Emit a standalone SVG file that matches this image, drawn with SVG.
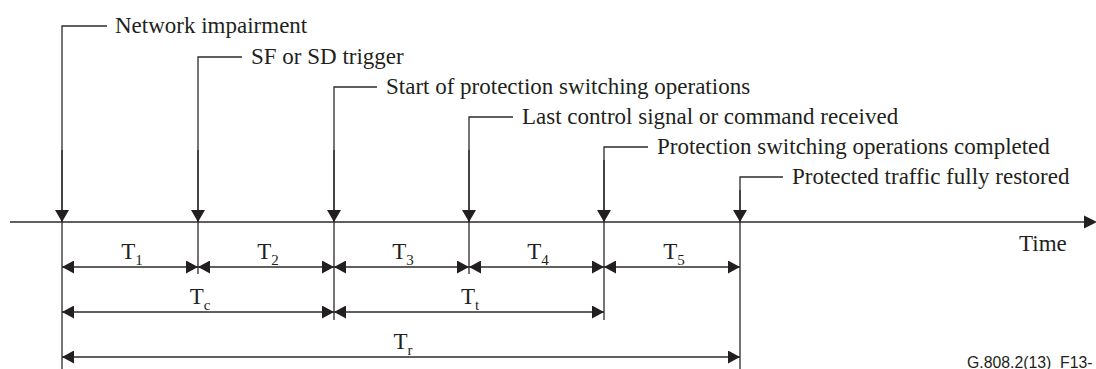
<svg xmlns="http://www.w3.org/2000/svg" width="1096" height="369" viewBox="0 0 1096 369">
<defs>
<style>
.ln{stroke:#2b2b2b;stroke-width:1.3;fill:none}
.ah{fill:#231f20}
.lbl{font-family:"Liberation Serif","Times New Roman",serif;font-size:23px;fill:#231f20}
.t{font-family:"Liberation Serif","Times New Roman",serif;font-size:23px;fill:#231f20;text-anchor:middle}
.sub{font-size:15px}
.ft{font-family:"Liberation Sans",Arial,sans-serif;font-size:15.8px;fill:#231f20}
</style>
<marker id="dn" viewBox="0 0 14 12" refX="7" refY="12" markerWidth="14" markerHeight="12" markerUnits="userSpaceOnUse" orient="0">
<path d="M0,0 L14,0 L7,12 Z" class="ah"/>
</marker>
<marker id="end" viewBox="0 0 12 13" refX="12" refY="6.5" markerWidth="12" markerHeight="13" markerUnits="userSpaceOnUse" orient="auto-start-reverse">
<path d="M0,0 L12,6.5 L0,13 Z" class="ah"/>
</marker>
</defs>
<rect width="1096" height="369" fill="#ffffff"/>

<g id="axis">
<line class="ln" x1="10" y1="222" x2="1086" y2="222"/>
<path class="ah" d="M1084,215.5 L1097,222 L1084,228.5 Z"/>
<text class="lbl" x="1019" y="251">Time</text>
</g>

<g id="connectors">
<path class="ln" d="M107,26 H62 V369"/>
<path class="ln" d="M242,57 H198 V274"/>
<path class="ln" d="M377,87 H334 V320"/>
<path class="ln" d="M513,117 H469 V274"/>
<path class="ln" d="M648,147 H604 V320"/>
<path class="ln" d="M783,177 H740 V369"/>
<line class="ln" x1="62" y1="150" x2="62" y2="222" marker-end="url(#dn)"/>
<line class="ln" x1="198" y1="150" x2="198" y2="222" marker-end="url(#dn)"/>
<line class="ln" x1="334" y1="150" x2="334" y2="222" marker-end="url(#dn)"/>
<line class="ln" x1="469" y1="150" x2="469" y2="222" marker-end="url(#dn)"/>
<line class="ln" x1="604" y1="160" x2="604" y2="222" marker-end="url(#dn)"/>
<line class="ln" x1="740" y1="190" x2="740" y2="222" marker-end="url(#dn)"/>
<line class="ln" x1="62" y1="267" x2="198" y2="267" marker-start="url(#end)" marker-end="url(#end)"/>
<line class="ln" x1="198" y1="267" x2="334" y2="267" marker-start="url(#end)" marker-end="url(#end)"/>
<line class="ln" x1="334" y1="267" x2="469" y2="267" marker-start="url(#end)" marker-end="url(#end)"/>
<line class="ln" x1="469" y1="267" x2="604" y2="267" marker-start="url(#end)" marker-end="url(#end)"/>
<line class="ln" x1="604" y1="267" x2="740" y2="267" marker-start="url(#end)" marker-end="url(#end)"/>
<line class="ln" x1="62" y1="312" x2="334" y2="312" marker-start="url(#end)" marker-end="url(#end)"/>
<line class="ln" x1="334" y1="312" x2="604" y2="312" marker-start="url(#end)" marker-end="url(#end)"/>
<line class="ln" x1="62" y1="357" x2="740" y2="357" marker-start="url(#end)" marker-end="url(#end)"/>
</g>

<g id="ev-network-impairment"><text class="lbl" x="115" y="33">Network impairment</text></g>
<g id="ev-sf-sd-trigger"><text class="lbl" x="251" y="64">SF or SD trigger</text></g>
<g id="ev-start-ps"><text class="lbl" x="386" y="94">Start of protection switching operations</text></g>
<g id="ev-last-control"><text class="lbl" x="522" y="124">Last control signal or command received</text></g>
<g id="ev-ps-completed"><text class="lbl" x="657" y="154">Protection switching operations completed</text></g>
<g id="ev-traffic-restored"><text class="lbl" x="792" y="184">Protected traffic fully restored</text></g>

<g id="T1"><text class="t" x="132" y="259">T<tspan class="sub" dy="6">1</tspan></text></g>
<g id="T2"><text class="t" x="268" y="259">T<tspan class="sub" dy="6">2</tspan></text></g>
<g id="T3"><text class="t" x="403" y="259">T<tspan class="sub" dy="6">3</tspan></text></g>
<g id="T4"><text class="t" x="538" y="259">T<tspan class="sub" dy="6">4</tspan></text></g>
<g id="T5"><text class="t" x="674" y="259">T<tspan class="sub" dy="6">5</tspan></text></g>
<g id="Tc"><text class="t" x="200" y="304">T<tspan class="sub" dy="6">c</tspan></text></g>
<g id="Tt"><text class="t" x="470" y="304">T<tspan class="sub" dy="6">t</tspan></text></g>
<g id="Tr"><text class="t" x="403" y="349">T<tspan class="sub" dy="6">r</tspan></text></g>

<g id="footer"><text class="ft" x="967" y="368">G.808.2(13)_F13-</text></g>
</svg>
